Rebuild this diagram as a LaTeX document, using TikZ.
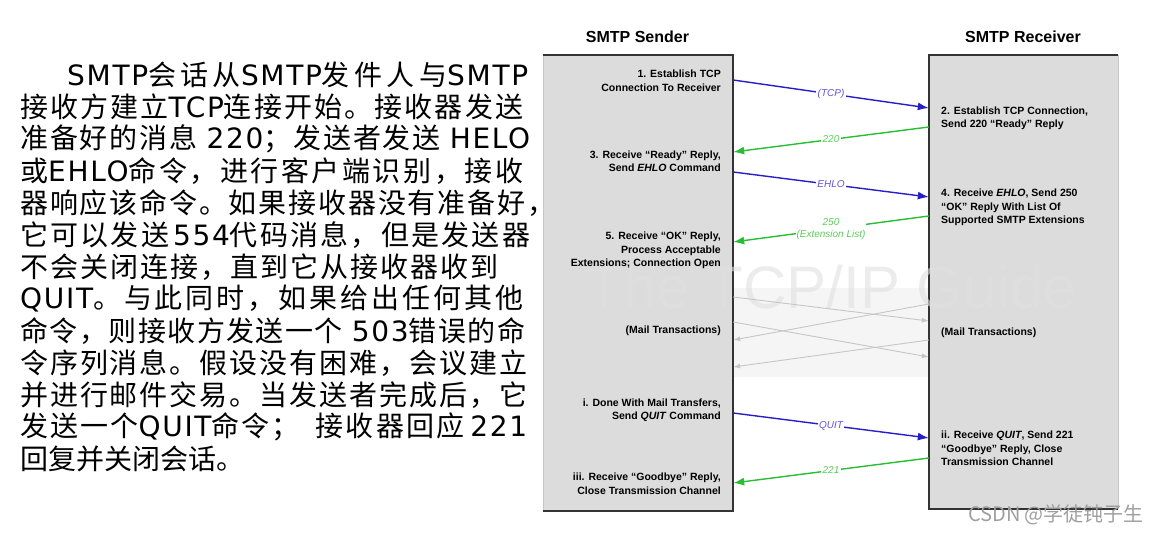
\documentclass[tikz,border=0pt]{standalone}
\usepackage{fontspec}
\setmainfont{Liberation Sans}
\newfontfamily\cjk{Noto Sans CJK SC}
\newfontfamily\latfont{DejaVu Sans}[LetterSpace=6]
\newcommand\enw[1]{{\latfont#1}}
\newXeTeXintercharclass\cjkcls
\newcount\cjkcnt
\cjkcnt="3000
\loop
  \XeTeXcharclass\cjkcnt=\cjkcls
  \advance\cjkcnt by 1
\ifnum\cjkcnt<"A000 \repeat
\cjkcnt="FF00
\loop
  \XeTeXcharclass\cjkcnt=\cjkcls
  \advance\cjkcnt by 1
\ifnum\cjkcnt<"FFF0 \repeat
\XeTeXinterchartoks\cjkcls\cjkcls={\hskip0pt plus 1pt\relax}
\newcommand\cnspread[2]{\hbox to #1pt{\XeTeXinterchartokenstate=1 #2}}
\usetikzlibrary{arrows.meta}
\definecolor{lanegray}{RGB}{220,220,220}
\definecolor{msgblue}{RGB}{40,30,200}
\definecolor{msggreen}{RGB}{40,190,50}
\definecolor{lblblue}{RGB}{95,85,215}
\definecolor{lblgreen}{RGB}{90,205,90}

\begin{document}
\begin{tikzpicture}[x=1pt,y=-1pt,
    lane/.style={fill=lanegray,minimum width=190pt,minimum height=456pt,inner sep=0pt},
    laneedge/.style={line width=2.5pt,black!80},
    title/.style={font=\fontsize{16}{18}\selectfont\bfseries},
    sendtxt/.style={anchor=east,align=right,inner sep=0pt,font=\fontsize{10.5}{13.5}\selectfont\bfseries},
    recvtxt/.style={anchor=west,align=left,inner sep=0pt,font=\fontsize{10.5}{13.5}\selectfont\bfseries},
    cnline/.style={anchor=west,inner sep=0pt,font=\cjk\fontsize{28}{32}\selectfont},
    tomsg/.style={msgblue,line width=1.4pt,-{Latex[length=11pt,width=8pt]}},
    backmsg/.style={msggreen,line width=1.4pt,-{Latex[length=11pt,width=8pt]}},
    mailmsg/.style={gray!45,line width=0.9pt,-{Latex[length=7pt,width=5pt]}},
    msglbl/.style={fill=white,inner sep=1.5pt,align=center,font=\fontsize{10}{12}\selectfont\itshape}]

\useasboundingbox (0,0) rectangle (1157,533);

\foreach \w/\txt [count=\i from 0] in {%
    508/{\kern47pt\enw{SMTP}会话从\enw{SMTP}发件人与\enw{SMTP}},
    503/{接收方建立\enw{TCP}连接开始。接收器发送},
    510/{准备好的消息\kern9pt\enw{220}；发送者发送\kern9pt\enw{HELO}},
    503/{或\enw{EHLO}命令，进行客户端识别，接收},
    535/{器响应该命令。如果接收器没有准备好，},
    510/{它可以发送\kern4pt\enw{554}代码消息，但是发送器},
    478/{不会关闭连接，直到它从接收器收到},
    503/{\enw{QUIT}。与此同时，如果给出任何其他},
    505/{命令，则接收方发送一个\kern9pt\enw{503}错误的命},
    507/{令序列消息。假设没有困难，会议建立},
    507/{并进行邮件交易。当发送者完成后，它},
    507/{发送一个\enw{QUIT}命令；\kern16pt接收器回应\kern6pt\enw{221}},
    224/{回复并关闭会话。}}
  \node[cnline] (cn\i) at (20,{75+32*\i}) {\cnspread{\w}{\txt}};

\node[lane] (sender) at (638,283) {};
\node[lane,minimum width=189pt,minimum height=454pt] (receiver) at (1023.5,282) {};
\fill[gray!8] (sender.east |- 0,288) rectangle (receiver.west |- 0,377);
\draw[gray!45,line width=0.6pt] (sender.north west) -- (sender.south west);
\draw[gray!45,line width=0.6pt] (receiver.north east) -- (receiver.south east);
\draw[laneedge] (sender.north west) -- (sender.north east) -- (sender.south east) -- (sender.south west);
\draw[laneedge] (receiver.north east) -- (receiver.north west) -- (receiver.south west) -- (receiver.south east);

\node[anchor=base,text=black!12,opacity=0.6,font=\fontsize{60}{60}\selectfont] (guide) at (832,308) {The TCP/IP Guide};

\node[title] (sendtitle) at (637.5,37) {SMTP Sender};
\node[title] (recvtitle) at (1023,37) {SMTP Receiver};

\node[sendtxt] (s1) at (721,80.5) {1. Establish TCP\\Connection To Receiver};
\node[sendtxt] (s3) at (721,161) {3. Receive “Ready” Reply,\\Send \textit{EHLO} Command};
\node[sendtxt] (s5) at (721,250.5) {5. Receive “OK” Reply,\\Process Acceptable\\Extensions; Connection Open};
\node[sendtxt] (smail) at (721,331) {(Mail Transactions)};
\node[sendtxt] (si) at (721,410) {i. Done With Mail Transfers,\\Send \textit{QUIT} Command};
\node[sendtxt] (siii) at (721,483.5) {iii. Receive “Goodbye” Reply,\\Close Transmission Channel};

\node[recvtxt] (r2) at (941,118.5) {2. Establish TCP Connection,\\Send 220 “Ready” Reply};
\node[recvtxt] (r4) at (941,207.5) {4. Receive \textit{EHLO}, Send 250\\“OK” Reply With List Of\\Supported SMTP Extensions};
\node[recvtxt] (rmail) at (941,333) {(Mail Transactions)};
\node[recvtxt] (rii) at (941,448.5) {ii. Receive \textit{QUIT}, Send 221\\“Goodbye” Reply, Close\\Transmission Channel};

\draw[tomsg] (sender.east |- 0,80) -- (receiver.west |- 0,108)
    node[msglbl,text=lblblue,pos=0.5] {(TCP)};
\draw[backmsg] (receiver.west |- 0,127) -- (sender.east |- 0,152)
    node[msglbl,text=lblgreen,pos=0.5] {220};
\draw[tomsg] (sender.east |- 0,172) -- (receiver.west |- 0,197)
    node[msglbl,text=lblblue,pos=0.5] {EHLO};
\draw[backmsg] (receiver.west |- 0,216) -- (sender.east |- 0,242)
    node[msglbl,text=lblgreen,pos=0.5,inner sep=0.5pt] {250\\(Extension List)};

\draw[mailmsg] (sender.east |- 0,297) -- (receiver.west |- 0,321);
\draw[mailmsg] (sender.east |- 0,322) -- (receiver.west |- 0,357);
\draw[mailmsg] (receiver.west |- 0,304) -- (sender.east |- 0,340);
\draw[mailmsg] (receiver.west |- 0,340) -- (sender.east |- 0,367);

\draw[tomsg] (sender.east |- 0,413) -- (receiver.west |- 0,438)
    node[msglbl,text=lblblue,pos=0.5] {QUIT};
\draw[backmsg] (receiver.west |- 0,458) -- (sender.east |- 0,483)
    node[msglbl,text=lblgreen,pos=0.5] {221};

\node[text=gray!75,font=\cjk\fontsize{20}{24}\selectfont,inner sep=0pt] (csdn) at (1056,515) {CSDN @学徒钝子生};
\end{tikzpicture}
\end{document}
